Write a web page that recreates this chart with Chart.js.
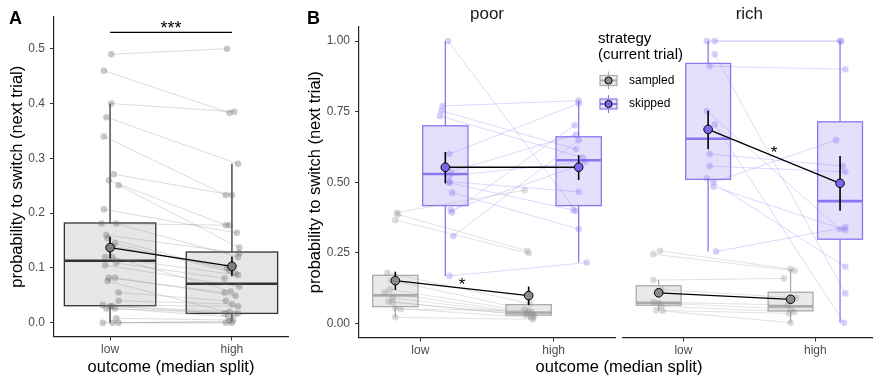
<!DOCTYPE html>
<html>
<head>
<meta charset="utf-8">
<script src="https://cdn.jsdelivr.net/npm/chart.js@4"></script>
<style>
  html, body { margin: 0; padding: 0; background: #fff; overflow: hidden; }
  #wrap { position: relative; width: 873px; height: 377px; overflow: hidden; }
  canvas { position: absolute; top: 0; }
  #panelA { left: 0; }
  #panelPoor { left: 300px; }
  #panelRich { left: 600px; }
</style>
</head>
<body>
<div id="wrap">
  <canvas id="panelA" width="300" height="377"></canvas>
  <canvas id="panelPoor" width="580" height="377"></canvas>
  <canvas id="panelRich" width="280" height="377"></canvas>
</div>
<script>
var outcomeLabels = ['low', 'high'];
var strategies = ['sampled', 'skipped'];
var ticksA = [0, 0.1, 0.2, 0.3, 0.4, 0.5];
var ticksB = [0, 0.25, 0.5, 0.75, 1];

// A: switch probability per participant after low / high outcomes
var aLow  = [0.49, 0.46, 0.40, 0.375, 0.34, 0.271, 0.26, 0.251, 0.207, 0.181, 0.181, 0.16, 0.154, 0.145, 0.12, 0.109, 0.105,
             0.082, 0.082, 0.055, 0.04, 0.032, 0.03, 0.03, 0.026, 0.026, 0.008, 0, 0, 0, 0.14, 0.12, 0.076];
var aHigh = [0.50, 0.383, 0.385, 0.29, 0.233, 0.233, 0.178, 0.137, 0.164, 0.178, 0.12, 0.127, 0.095, 0.09, 0.087, 0.081, 0.066,
             0.055, 0.049, 0.04, 0.034, 0.03, 0.017, 0.02, 0.017, 0.011, 0.005, 0, 0, 0.003, 0.10, 0.057, 0.016];
var aJitLow  = [0.01, -0.05, 0.01, -0.03, -0.05, 0.03, -0.01, 0.07, -0.05, -0.07, 0.05, -0.03, -0.02, 0.04, -0.04, 0.05, -0.04,
                -0.01, 0.04, 0.07, 0.07, -0.06, 0, 0.02, -0.03, 0.04, 0.05, -0.06, 0.02, 0.07, 0.02, 0.02, -0.02];
var aJitHigh = [-0.04, -0.02, 0.02, 0.05, -0.05, 0, -0.05, 0.06, 0.04, -0.02, 0.05, 0.06, -0.02, 0.03, 0.05, -0.06, 0.06,
                -0.06, 0.03, -0.05, 0, 0.05, -0.06, -0.02, 0.05, -0.03, 0.01, -0.05, 0, -0.02, -0.04, -0.01, 0.02];
// min, q1, median, q3, max
var aBox  = [[0, 0.031, 0.113, 0.182, 0.40], [0.003, 0.017, 0.071, 0.129, 0.29]];
var aMean = [0.137, 0.103];
var aErr  = [[0.117, 0.157], [0.085, 0.121]];

// B, poor context
var poorSampledLow  = [0.392, 0.386, 0.366, 0.179, 0.152, 0.12, 0.109, 0.09, 0.077, 0.075, 0.053, 0.05, 0.021];
var poorSampledHigh = [0.472, 0.257, 0.248, 0.07, 0.05, 0.04, 0.035, 0.03, 0.03, 0.025, 0.02, 0.045, 0.014];
var poorSampledJitLow  = [0.01, 0.02, 0, -0.06, -0.03, -0.04, -0.08, -0.02, -0.05, -0.02, 0, 0.04, 0];
var poorSampledJitHigh = [-0.03, -0.01, 0, 0.01, -0.03, 0.02, -0.01, 0.03, -0.02, 0.04, 0.03, 0, 0.03];
var poorSkippedLow  = [1.0, 0.770, 0.753, 0.735, 0.60, 0.537, 0.522, 0.502, 0.498, 0.463, 0.401, 0.393, 0.309, 0.168];
var poorSkippedHigh = [0.398, 0.789, 0.617, 0.587, 0.779, 0.669, 0.573, 0.466, 0.401, 0.334, 0.56, 0.702, 0.649, 0.215];
var poorSkippedJitLow  = [0.02, -0.02, -0.03, -0.04, 0.03, 0.04, 0.03, 0.03, 0.03, 0.05, 0.04, 0.05, 0.06, 0.03];
var poorSkippedJitHigh = [-0.02, 0, -0.02, 0.03, 0, -0.02, 0.05, 0, -0.04, 0, 0.01, -0.03, 0, 0.06];
var poorSampledBox  = [[0.021, 0.059, 0.099, 0.170, 0.179], [0.014, 0.029, 0.038, 0.066, 0.072]];
var poorSkippedBox  = [[0.168, 0.417, 0.529, 0.700, 1.0], [0.215, 0.417, 0.578, 0.661, 0.789]];
var poorSampledMean = [0.151, 0.098];
var poorSampledErr  = [[0.118, 0.183], [0.065, 0.130]];
var poorSkippedMean = [0.553, 0.553];
var poorSkippedErr  = [[0.496, 0.607], [0.508, 0.596]];

// B, rich context
var richSampledLow  = [0.257, 0.245, 0.153, 0.12, 0.075, 0.072, 0.06, 0.046, 0.044];
var richSampledHigh = [0.192, 0.186, 0.159, 0.09, 0.065, 0.05, 0.04, 0.035, 0.002];
var richSampledJitLow  = [0.01, -0.04, -0.04, 0.02, -0.04, 0, 0.02, -0.02, 0.03];
var richSampledJitHigh = [0, 0.03, -0.05, 0.04, -0.02, 0, 0.03, -0.01, 0];
var richSkippedLow  = [1.0, 1.0, 0.953, 0.911, 0.752, 0.705, 0.60, 0.557, 0.514, 0.50, 0.484, 0.254];
var richSkippedHigh = [1.0, 1.0, 0.106, 0.90, 0.333, 0.002, 0.557, 0.537, 0.20, 0.649, 0.33, 0.34];
var richSkippedJitLow  = [-0.01, 0.05, 0.05, 0.01, -0.01, 0.05, 0.01, 0.01, -0.01, 0.04, 0.04, 0.06];
var richSkippedJitHigh = [0, 0.01, 0.04, 0.04, 0, 0.03, 0.02, 0.04, 0.04, -0.03, 0.04, 0.04];
var richSampledBox  = [[0.045, 0.064, 0.073, 0.133, 0.153], [0.002, 0.044, 0.060, 0.110, 0.192]];
var richSkippedBox  = [[0.254, 0.510, 0.654, 0.921, 1.0], [0.002, 0.298, 0.433, 0.714, 1.0]];
var richSampledMean = [0.108, 0.085];
var richSampledErr  = [[0.093, 0.123], [0.074, 0.096]];
var richSkippedMean = [0.687, 0.496];
var richSkippedErr  = [[0.617, 0.753], [0.399, 0.593]];

var FONT = "'Liberation Sans', Arial, sans-serif";
Chart.defaults.font.family = FONT;
Chart.defaults.color = '#000';

var grey = { fill: '#e6e6e6', stroke: '#333333', median: '#333333', point: 'rgba(100,100,100,0.35)', line: 'rgba(140,140,140,0.3)', mean: '#7f7f7f' };
var sampled = { fill: '#e9e9e9', stroke: '#ababab', median: '#ababab', point: 'rgba(140,140,140,0.3)', line: 'rgba(160,160,160,0.3)', mean: '#8c8c8c' };
var skipped = { fill: 'rgb(228,224,252)', stroke: 'rgb(136,120,240)', median: 'rgb(136,120,240)', point: 'rgba(123,104,238,0.3)', line: 'rgba(123,104,238,0.25)', mean: 'rgb(123,104,238)' };

var DODGE = 0.1875;

function subjectSets(lowVals, highVals, jitLow, jitHigh, shift, style) {
  return lowVals.map(function(v, i) {
    return {
      data: [{ x: 1 + shift + jitLow[i], y: v }, { x: 2 + shift + jitHigh[i], y: highVals[i] }],
      showLine: true,
      borderColor: style.line,
      borderWidth: 1,
      pointRadius: 3.3,
      pointBackgroundColor: style.point,
      pointBorderWidth: 0
    };
  });
}

function boxGroups(boxes, shift, width, style) {
  return boxes.map(function(s, i) {
    return { x: i + 1 + shift, width: width, stats: s, style: style };
  });
}

function meanGroup(mean, err, shift, style, star) {
  return { xs: [1 + shift, 2 + shift], mean: mean, err: err, fill: style.mean, star: star };
}

// boxes under the participant lines, means and error bars on top of them
var boxPlots = {
  id: 'boxPlots',
  beforeDatasetsDraw: function(chart, args, opts) {
    var ctx = chart.ctx, xs = chart.scales.x, ys = chart.scales.y;
    (opts.boxes || []).forEach(function(b) {
      var s = b.stats, st = b.style;
      var cx = xs.getPixelForValue(b.x);
      var x0 = xs.getPixelForValue(b.x - b.width / 2), x1 = xs.getPixelForValue(b.x + b.width / 2);
      var yMin = ys.getPixelForValue(s[0]), yQ1 = ys.getPixelForValue(s[1]), yMed = ys.getPixelForValue(s[2]),
          yQ3 = ys.getPixelForValue(s[3]), yMax = ys.getPixelForValue(s[4]);
      ctx.save();
      ctx.strokeStyle = st.stroke;
      ctx.lineWidth = 1.3;
      ctx.beginPath();
      ctx.moveTo(cx, yQ3); ctx.lineTo(cx, yMax);
      ctx.moveTo(cx, yQ1); ctx.lineTo(cx, yMin);
      ctx.stroke();
      ctx.fillStyle = st.fill;
      ctx.fillRect(x0, yQ3, x1 - x0, yQ1 - yQ3);
      ctx.strokeRect(x0, yQ3, x1 - x0, yQ1 - yQ3);
      ctx.strokeStyle = st.median;
      ctx.lineWidth = 2.6;
      ctx.beginPath();
      ctx.moveTo(x0, yMed); ctx.lineTo(x1, yMed);
      ctx.stroke();
      ctx.restore();
    });
  },
  afterDatasetsDraw: function(chart, args, opts) {
    var ctx = chart.ctx, xs = chart.scales.x, ys = chart.scales.y;
    (opts.means || []).forEach(function(m) {
      var px = m.xs.map(function(v) { return xs.getPixelForValue(v); });
      var py = m.mean.map(function(v) { return ys.getPixelForValue(v); });
      ctx.save();
      ctx.strokeStyle = '#000';
      ctx.lineWidth = 1.3;
      ctx.beginPath();
      ctx.moveTo(px[0], py[0]); ctx.lineTo(px[1], py[1]);
      ctx.stroke();
      ctx.lineWidth = 1.6;
      m.err.forEach(function(e, i) {
        ctx.beginPath();
        ctx.moveTo(px[i], ys.getPixelForValue(e[0]));
        ctx.lineTo(px[i], ys.getPixelForValue(e[1]));
        ctx.stroke();
      });
      ctx.fillStyle = m.fill;
      ctx.lineWidth = 1;
      for (var i = 0; i < 2; i++) {
        ctx.beginPath();
        ctx.arc(px[i], py[i], 4.3, 0, Math.PI * 2);
        ctx.fill();
        ctx.stroke();
      }
      if (m.star) {
        ctx.fillStyle = '#000';
        ctx.font = '17px ' + FONT;
        ctx.textAlign = 'center';
        ctx.textBaseline = 'alphabetic';
        ctx.fillText(m.star, (px[0] + px[1]) / 2, (py[0] + py[1]) / 2 + 2);
      }
      ctx.restore();
    });
    if (opts.bracket) {
      var br = opts.bracket;
      var bx0 = xs.getPixelForValue(br.xs[0]), bx1 = xs.getPixelForValue(br.xs[1]), by = ys.getPixelForValue(br.y);
      ctx.save();
      ctx.strokeStyle = '#000';
      ctx.lineWidth = 1.3;
      ctx.beginPath();
      ctx.moveTo(bx0, by); ctx.lineTo(bx1, by);
      ctx.stroke();
      ctx.fillStyle = '#000';
      ctx.font = '18px ' + FONT;
      ctx.textAlign = 'center';
      ctx.textBaseline = 'alphabetic';
      ctx.fillText(br.text, (bx0 + bx1) / 2, by + 2);
      ctx.restore();
    }
  }
};

// free text: panel letters, shared axis title, legend
var panelText = {
  id: 'panelText',
  afterDraw: function(chart, args, opts) {
    var ctx = chart.ctx;
    ctx.save();
    (opts.items || []).forEach(function(t) {
      ctx.font = t.font;
      ctx.fillStyle = '#000';
      ctx.textAlign = t.align || 'left';
      ctx.textBaseline = 'middle';
      ctx.fillText(t.text, t.x, t.y);
    });
    if (opts.legend) {
      var lg = opts.legend;
      [sampled, skipped].forEach(function(st, i) {
        var cy = lg.y + i * lg.gap, x0 = lg.x, w = 17, cx = x0 + w / 2;
        ctx.strokeStyle = st.stroke;
        ctx.lineWidth = 1.2;
        ctx.beginPath();
        ctx.moveTo(cx, cy - 9); ctx.lineTo(cx, cy + 9);
        ctx.stroke();
        ctx.fillStyle = st.fill;
        ctx.fillRect(x0, cy - 5, w, 10);
        ctx.strokeRect(x0, cy - 5, w, 10);
        ctx.lineWidth = 2;
        ctx.beginPath();
        ctx.moveTo(x0, cy); ctx.lineTo(x0 + w, cy);
        ctx.stroke();
        ctx.fillStyle = st.mean;
        ctx.strokeStyle = '#000';
        ctx.lineWidth = 1;
        ctx.beginPath();
        ctx.arc(cx, cy, 3.6, 0, Math.PI * 2);
        ctx.fill();
        ctx.stroke();
        ctx.fillStyle = '#000';
        ctx.font = '12px ' + FONT;
        ctx.textAlign = 'left';
        ctx.textBaseline = 'middle';
        ctx.fillText(strategies[i], x0 + 29, cy);
      });
    }
    ctx.restore();
  }
};

function xAxis(height, title) {
  return {
    type: 'linear', min: 0.54, max: 2.46,
    afterBuildTicks: function(s) { s.ticks = outcomeLabels.map(function(l, i) { return { value: i + 1 }; }); },
    ticks: { callback: function(v, i) { return outcomeLabels[i]; }, color: '#4d4d4d', font: { size: 12 }, padding: 2, maxRotation: 0 },
    grid: { drawOnChartArea: false, tickLength: 4, color: '#333' },
    border: { color: '#222', width: 1.2 },
    title: title ? { display: true, text: title, font: { size: 16.5 }, padding: { top: 0, bottom: 0 } } : { display: false },
    afterFit: function(s) { s.height = height; }
  };
}

function yAxis(min, max, ticks, digits, width, title, titlePad) {
  return {
    min: min, max: max,
    afterBuildTicks: function(s) { s.ticks = ticks.map(function(v) { return { value: v }; }); },
    ticks: { callback: function(v) { return v.toFixed(digits); }, color: '#4d4d4d', font: { size: 12 }, padding: 5 },
    grid: { drawOnChartArea: false, tickLength: 4, color: '#333' },
    border: { color: '#222', width: 1.2 },
    title: { display: true, text: title, font: { size: 16.5 }, padding: { top: titlePad, bottom: 0 } },
    afterFit: function(s) { s.width = width; }
  };
}

function stripTitle(text) {
  return { display: true, text: text, fullSize: false, color: '#1a1a1a', font: { size: 17, weight: 'normal' }, padding: { top: 4, bottom: 2.6 } };
}

var yTitle = 'probability to switch (next trial)';

new Chart(document.getElementById('panelA'), {
  type: 'scatter',
  data: { datasets: subjectSets(aLow, aHigh, aJitLow, aJitHigh, 0, grey) },
  options: {
    responsive: false, animation: false, events: [],
    layout: { padding: { left: 0, right: 12, top: 17, bottom: 0 } },
    plugins: {
      legend: { display: false }, tooltip: { enabled: false },
      boxPlots: {
        boxes: boxGroups(aBox, 0, 0.75, grey),
        means: [meanGroup(aMean, aErr, 0, grey)],
        bracket: { xs: [1, 2], y: 0.53, text: '***' }
      },
      panelText: { items: [{ text: 'A', x: 9, y: 19, font: 'bold 18px ' + FONT }] }
    },
    scales: {
      x: xAxis(40.6, 'outcome (median split)'),
      y: yAxis(-0.025, 0.558, ticksA, 1, 54, yTitle, 8)
    }
  },
  plugins: [boxPlots, panelText]
});

new Chart(document.getElementById('panelPoor'), {
  type: 'scatter',
  data: {
    datasets: subjectSets(poorSampledLow, poorSampledHigh, poorSampledJitLow, poorSampledJitHigh, -DODGE, sampled)
      .concat(subjectSets(poorSkippedLow, poorSkippedHigh, poorSkippedJitLow, poorSkippedJitHigh, DODGE, skipped))
  },
  options: {
    responsive: false, animation: false, events: [],
    layout: { padding: { left: 0, right: 265, top: 0, bottom: 0 } },
    plugins: {
      legend: { display: false }, tooltip: { enabled: false },
      title: stripTitle('poor'),
      boxPlots: {
        boxes: boxGroups(poorSampledBox, -DODGE, 0.34, sampled).concat(boxGroups(poorSkippedBox, DODGE, 0.34, skipped)),
        means: [meanGroup(poorSampledMean, poorSampledErr, -DODGE, sampled, '*'),
                meanGroup(poorSkippedMean, poorSkippedErr, DODGE, skipped)]
      },
      panelText: {
        items: [
          { text: 'B', x: 7, y: 19, font: 'bold 18px ' + FONT },
          { text: 'outcome (median split)', x: 319, y: 367, font: '16.5px ' + FONT, align: 'center' },
          { text: 'strategy', x: 298, y: 39, font: '15px ' + FONT },
          { text: '(current trial)', x: 298, y: 55, font: '15px ' + FONT }
        ],
        legend: { x: 300, y: 80.5, gap: 23.5 }
      }
    },
    scales: {
      x: xAxis(39.6),
      y: yAxis(-0.05, 1.05, ticksB, 2, 59, yTitle, 6)
    }
  },
  plugins: [boxPlots, panelText]
});

new Chart(document.getElementById('panelRich'), {
  type: 'scatter',
  data: {
    datasets: subjectSets(richSampledLow, richSampledHigh, richSampledJitLow, richSampledJitHigh, -DODGE, sampled)
      .concat(subjectSets(richSkippedLow, richSkippedHigh, richSkippedJitLow, richSkippedJitHigh, DODGE, skipped))
  },
  options: {
    responsive: false, animation: false, events: [],
    layout: { padding: { left: 22.7, right: 0, top: 0, bottom: 0 } },
    plugins: {
      legend: { display: false }, tooltip: { enabled: false },
      title: stripTitle('rich'),
      boxPlots: {
        boxes: boxGroups(richSampledBox, -DODGE, 0.34, sampled).concat(boxGroups(richSkippedBox, DODGE, 0.34, skipped)),
        means: [meanGroup(richSampledMean, richSampledErr, -DODGE, sampled),
                meanGroup(richSkippedMean, richSkippedErr, DODGE, skipped, '*')]
      }
    },
    scales: {
      x: xAxis(39.6),
      y: { display: false, min: -0.05, max: 1.05 }
    }
  },
  plugins: [boxPlots]
});
</script>
</body>
</html>
